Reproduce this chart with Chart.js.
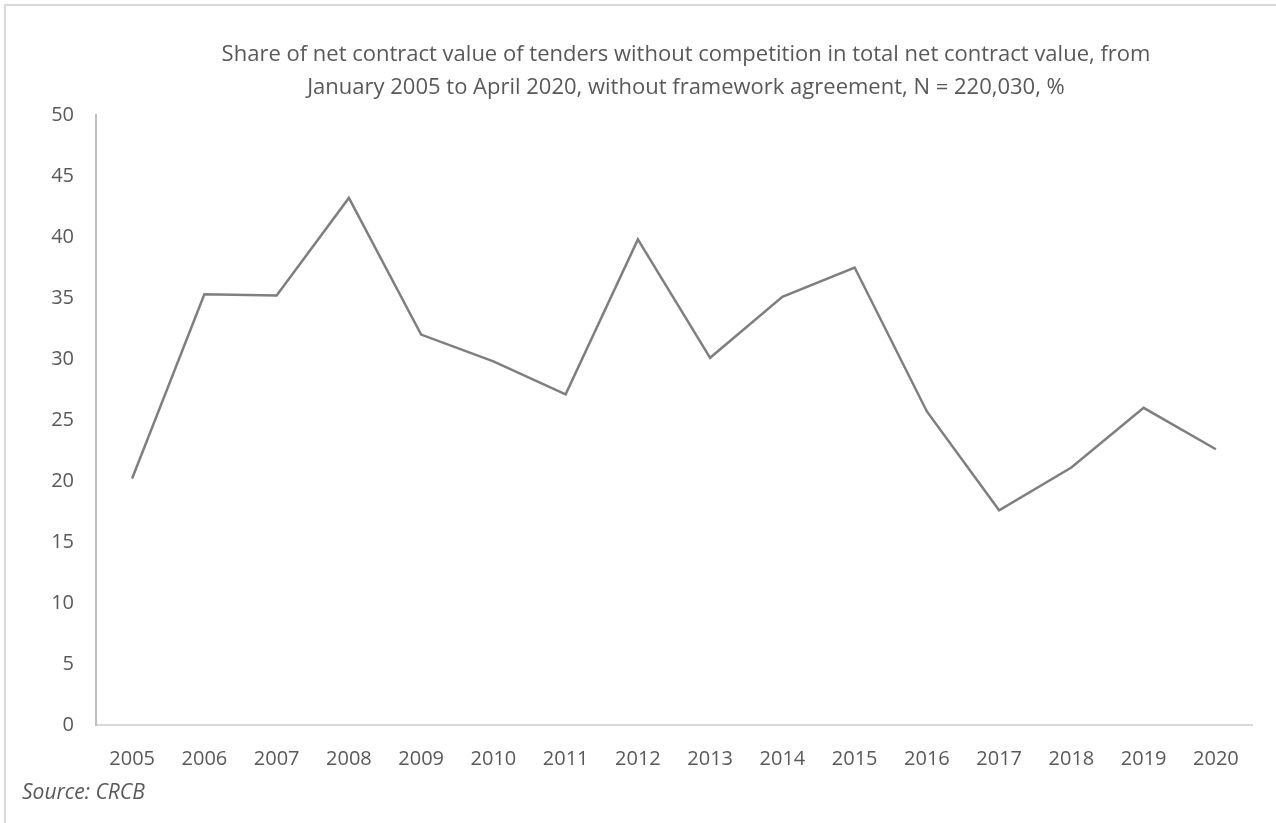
<!DOCTYPE html>
<html lang="en">
<head>
<meta charset="UTF-8">
<title>Share of net contract value of tenders without competition</title>
<script src="https://cdn.jsdelivr.net/npm/chart.js"></script>
<style>
  html, body { margin: 0; padding: 0; background: #fff; overflow: hidden; }
  #wrap { position: relative; width: 1276px; height: 823px; overflow: hidden; }
  #frame { position: absolute; left: 4px; top: 4px; width: 1320px; height: 900px; border: 2px solid #d9d9d9; }
  #chart { position: absolute; left: 0; top: 0; }
</style>
</head>
<body>
<div id="wrap">
  <div id="frame"></div>
  <!-- the chart frame runs past the right edge of the window, like in the original -->
  <canvas id="chart" width="1350" height="823"></canvas>
</div>

<script>
// data
var years = ['2005', '2006', '2007', '2008', '2009', '2010', '2011', '2012',
             '2013', '2014', '2015', '2016', '2017', '2018', '2019', '2020'];
var shares = [20.2, 35.3, 35.2, 43.2, 32.0, 29.8, 27.1, 39.8,
              30.1, 35.1, 37.5, 25.7, 17.6, 21.1, 26.0, 22.6];
var titleLines = [
  'Share of net contract value of tenders without competition in total net contract value, from',
  'January 2005 to April 2020, without framework agreement, N = 220,030, %'
];
var sourceNote = 'Source: CRCB';

var textColor = '#595959';
var fontFamily = "'Open Sans', 'Noto Sans', sans-serif";

var ctx = document.getElementById('chart').getContext('2d');
var chart = new Chart(ctx, {
    type: 'line',
    data: {
        labels: years,
        datasets: [{
            label: 'Share, %',
            data: shares,
            borderColor: '#7f7f7f',
            borderWidth: 2.5,
            pointRadius: 0,
            tension: 0,
            fill: false
        }]
    },
    options: {
        responsive: false,
        animation: false,
        layout: {
            padding: { left: 22, right: 0, top: 0, bottom: 0 }
        },
        plugins: {
            legend: { display: false },
            tooltip: { enabled: false },
            title: {
                display: true,
                text: titleLines,
                color: textColor,
                font: { family: fontFamily, size: 22, weight: 'normal', lineHeight: 1.5 },
                padding: { top: 38, bottom: 11 }
            },
            subtitle: {
                display: true,
                position: 'bottom',
                align: 'start',
                text: sourceNote,
                color: textColor,
                font: { family: fontFamily, size: 21, style: 'italic', weight: 'normal', lineHeight: 1.2 },
                padding: { top: 9.4, bottom: 17.4 }
            }
        },
        scales: {
            x: {
                offset: true,
                grid: { display: true, drawOnChartArea: false, drawTicks: false },
                border: { display: true, color: '#d9d9d9', width: 2 },
                ticks: {
                    color: textColor,
                    padding: 22,
                    maxRotation: 0,
                    autoSkip: false,
                    font: { family: fontFamily, size: 20 }
                },
                afterFit: function(scale) { scale.height = 46; }
            },
            y: {
                min: 0,
                max: 50,
                grid: { display: true, drawOnChartArea: false, drawTicks: false },
                border: { display: true, color: '#bfbfbf', width: 2 },
                ticks: {
                    stepSize: 5,
                    color: textColor,
                    padding: 22,
                    font: { family: fontFamily, size: 20 }
                },
                afterFit: function(scale) { scale.width = 74; }
            },
            // empty strip on the right: the plot stops at 1252px, the rest of the frame is off screen
            yRight: {
                position: 'right',
                min: 0,
                max: 50,
                grid: { display: false },
                border: { display: false },
                ticks: { display: false },
                afterFit: function(scale) { scale.width = 98; }
            }
        }
    }
});
</script>
</body>
</html>
